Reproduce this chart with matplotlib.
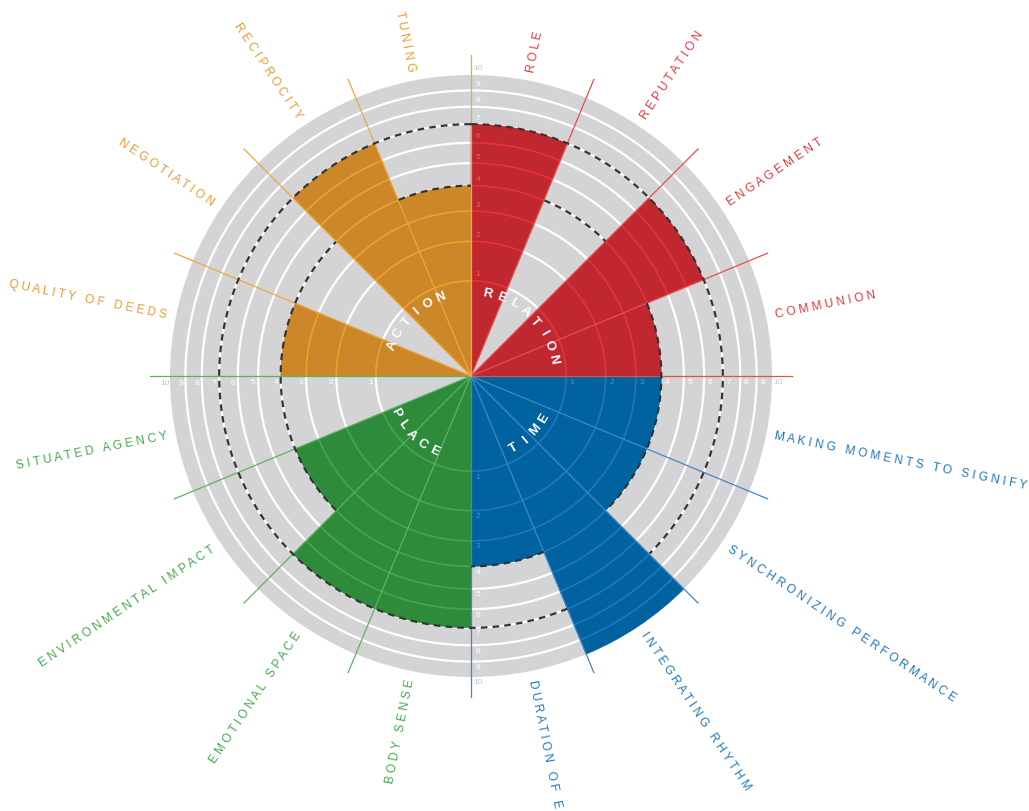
import numpy as np
import matplotlib
matplotlib.use('Agg')
import matplotlib.pyplot as plt

plt.rcParams['font.family'] = ['Liberation Sans', 'DejaVu Sans']

# ---------------- data ----------------
quadrant_names = ['RELATION', 'TIME', 'PLACE', 'ACTION']

relation_labels = ['ROLE', 'REPUTATION', 'ENGAGEMENT', 'COMMUNION']
relation_values = [7, 0, 7, 4]
time_labels = ['MAKING MOMENTS TO SIGNIFY', 'SYNCHRONIZING PERFORMANCE',
               'INTEGRATING RHYTHM', 'DURATION OF EXPERIENCE']
time_values = [4, 4, 10, 4]
place_labels = ['BODY SENSE', 'EMOTIONAL SPACE', 'ENVIRONMENTAL IMPACT', 'SITUATED AGENCY']
place_values = [7, 7, 4, 0]
action_labels = ['QUALITY OF DEEDS', 'NEGOTIATION', 'RECIPROCITY', 'TUNING']
action_values = [4, 0, 7, 4]

scale_ticks = [1, 2, 3, 4, 5, 6, 7, 8, 9, 10]
dashed_levels = [4, 7]

# ---------------- style ----------------
GRAY = '#d4d4d6'
bar_colors = ['#c0272f', '#00629e', '#2e8b3c', '#cc8828']
light_colors = ['#e3343c', '#1f78be', '#45a64e', '#eca22d']
text_colors = ['#e1383b', '#1e78bd', '#45a94f', '#eb9a30']
line_colors = ['#e4504c', '#3f88c6', '#5cb35f', '#efa640']

W, H = 1029, 811
CX, CY = 471, 376
R_AX = 330          # axes radius in px
DISC_PX = 301       # radius of value 10 in px


def px2v(px):
    return 10.0 * (px / DISC_PX) ** 2


labels = relation_labels + time_labels + place_labels + action_labels
values = np.array(relation_values + time_values + place_values + action_values, dtype=float)
nseg = len(values)
seg = 2 * np.pi / nseg
quad_of = np.arange(nseg) // 4

fig = plt.figure(figsize=(W / 100, H / 100), dpi=100)
fig.patch.set_facecolor('white')
ax = fig.add_axes([(CX - R_AX) / W, (H - CY - R_AX) / H, 2 * R_AX / W, 2 * R_AX / H],
                  projection='polar')
ax.set_theta_zero_location('N')
ax.set_theta_direction(-1)
ax.set_rscale('function', functions=(lambda v: np.sqrt(np.clip(v, 0, None)),
                                     lambda r: np.square(r)))
ax.set_rlim(0, px2v(R_AX))
ax.set_axis_off()

# gray disc
ax.bar(0, 10, width=2 * np.pi, bottom=0, color=GRAY, edgecolor='none', zorder=1)

# white rings
full = np.linspace(0, 2 * np.pi, 1441)
for v in scale_ticks[:-1]:
    ax.plot(full, np.full_like(full, v), color='white', lw=1.6, zorder=2,
            solid_capstyle='butt')

# bars
centers = (np.arange(nseg) + 0.5) * seg
cols = [bar_colors[q] for q in quad_of]
ax.bar(centers, values, width=seg, bottom=0, color=cols, edgecolor=cols,
       linewidth=0.4, zorder=3)

# lighter rings inside bars
for k in range(nseg):
    th = np.linspace(k * seg, (k + 1) * seg, 60)
    for v in scale_ticks[:-1]:
        if v < values[k]:
            ax.plot(th, np.full_like(th, v), color=light_colors[quad_of[k]], lw=1.2,
                    zorder=4, solid_capstyle='butt')

# dashed reference circles (only where not covered by a bar)
dth = np.linspace(0, 2 * np.pi, 2401)
didx = np.clip((dth / seg).astype(int), 0, nseg - 1)
for L in dashed_levels:
    r = np.where(values[didx] <= L, L, np.nan)
    ax.plot(dth, r, color='#333333', lw=1.6, ls=(0, (3.0, 2.3)), zorder=6)

# divider / label lines
LINE_END = px2v(321)
for k in range(1, nseg + 1):
    q = quad_of[k - 1]
    a = k * seg
    ax.plot([a, a], [0, LINE_END], color=line_colors[q], lw=0.9, zorder=5)

# category labels
LAB_R = px2v(310)
for k, name in enumerate(labels):
    comp = (k + 0.5) * 360 / nseg
    txt = '   '.join(' '.join(w) for w in name.split())
    if comp < 180:
        rot, ha = 90 - comp, 'left'
    else:
        rot, ha = 270 - comp, 'right'
    ax.text(np.deg2rad(comp), LAB_R, txt, rotation=rot, ha=ha, va='center',
            rotation_mode='anchor', color=text_colors[quad_of[k]], fontsize=8.6,
            zorder=7)

# quadrant names curved around the centre
QL_R = px2v(84)
STEP = 9.6
for q, name in enumerate(quadrant_names):
    c = 45 + 90 * q
    n = len(name)
    top = c in (45, 315)
    for i, ch in enumerate(name):
        off = (i - (n - 1) / 2) * STEP
        if top:
            th = c + off
            rot = -th
        else:
            th = c - off
            rot = 180 - th
        ax.text(np.deg2rad(th), QL_R, ch, rotation=rot, ha='center', va='center',
                rotation_mode='anchor', color='white', fontsize=9.5, fontweight='bold',
                zorder=8)

# scale numbers along the four axes
sides = [(0.0, 0, (7, 6)), (90.0, 4, (6, -7)), (180.0, 7, (7, -6)), (270.0, 11, (-5, -7))]
for ang, sidx, (dx, dy) in sides:
    V = values[sidx]
    for v in scale_ticks:
        lab_px = DISC_PX * np.sqrt(v / 10) + 5
        if v >= 10:
            col, al = '#c4c4c4', 1.0
        elif lab_px < DISC_PX * np.sqrt(V / 10):
            col, al = 'white', 0.3
        else:
            col, al = 'white', 1.0
        ax.annotate(str(v), xy=(np.deg2rad(ang), v), xytext=(dx, dy),
                    textcoords='offset pixels', ha='center', va='center',
                    fontsize=6, color=col, alpha=al, zorder=9,
                    annotation_clip=False)

fig.savefig('out.png', dpi=100, facecolor='white')
